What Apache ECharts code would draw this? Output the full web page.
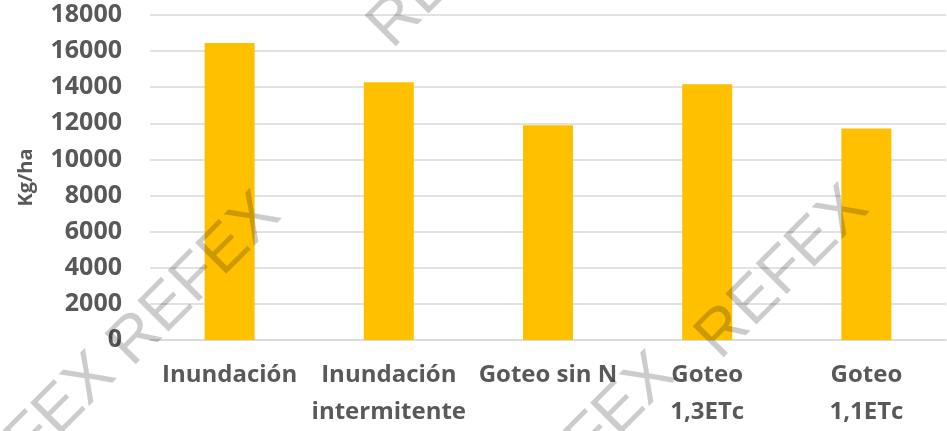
<!DOCTYPE html>
<html>
<head>
<meta charset="utf-8">
<script src="https://cdn.jsdelivr.net/npm/echarts@6/dist/echarts.min.js"></script>
<style>
  html, body { margin: 0; padding: 0; background: #fff; }
  #chart { width: 947px; height: 431px; }
</style>
</head>
<body>
<div id="chart"></div>
<script>
// categories (line breaks as wrapped in the original)
const categories = [
  "Inundación",
  "Inundación\nintermitente",
  "Goteo sin N",
  "Goteo\n1,3ETc",
  "Goteo\n1,1ETc"
];
const yieldKgHa = [16450, 14270, 11900, 14160, 11720];
const yTicks = [0, 2000, 4000, 6000, 8000, 10000, 12000, 14000, 16000, 18000];
const watermarkText = "REFEX";

const textColor = "#595959";
const font = "'Open Sans', 'Liberation Sans', sans-serif";

// faint diagonal watermark, repeated over the picture
const watermarkCenters = [
  [195, 280],
  [783, 273],
  [30, 440],
  [590, 440],
  [455, -38]
];

const chart = echarts.init(document.getElementById("chart"), null, { renderer: "canvas" });

chart.setOption({
  animation: false,
  backgroundColor: "#ffffff",
  grid: {
    left: 150,
    right: 1,
    top: 15,
    bottom: 89,
    containLabel: false
  },
  xAxis: {
    type: "category",
    data: categories,
    axisLine: { show: true, lineStyle: { color: "#d9d9d9", width: 1.5 } },
    axisTick: { show: false },
    axisLabel: {
      color: textColor,
      fontFamily: font,
      fontWeight: "bold",
      fontSize: 24,
      lineHeight: 37,
      margin: 17,
      interval: 0
    }
  },
  yAxis: {
    type: "value",
    min: yTicks[0],
    max: yTicks[yTicks.length - 1],
    interval: yTicks[1] - yTicks[0],
    name: "Kg/ha",
    nameLocation: "middle",
    nameGap: 114,
    nameTextStyle: {
      color: textColor,
      fontFamily: font,
      fontWeight: "bold",
      fontSize: 20
    },
    axisLine: { show: false },
    axisTick: { show: false },
    splitLine: { lineStyle: { color: "#d9d9d9", width: 1.5 } },
    axisLabel: {
      color: textColor,
      fontFamily: font,
      fontWeight: "bold",
      fontSize: 25,
      margin: 28,
      formatter: value => String(value)
    }
  },
  series: [
    {
      type: "bar",
      data: yieldKgHa,
      barWidth: 50,
      itemStyle: { color: "#FFC000" }
    }
  ],
  graphic: watermarkCenters.map(([x, y]) => ({
    type: "text",
    x: x,
    y: y,
    rotation: Math.PI / 4,
    z: 100,
    silent: true,
    style: {
      text: watermarkText,
      fill: "rgba(0, 0, 0, 0.2)",
      font: "normal 64px 'Liberation Sans', sans-serif",
      align: "center",
      verticalAlign: "middle"
    }
  }))
});
</script>
</body>
</html>
